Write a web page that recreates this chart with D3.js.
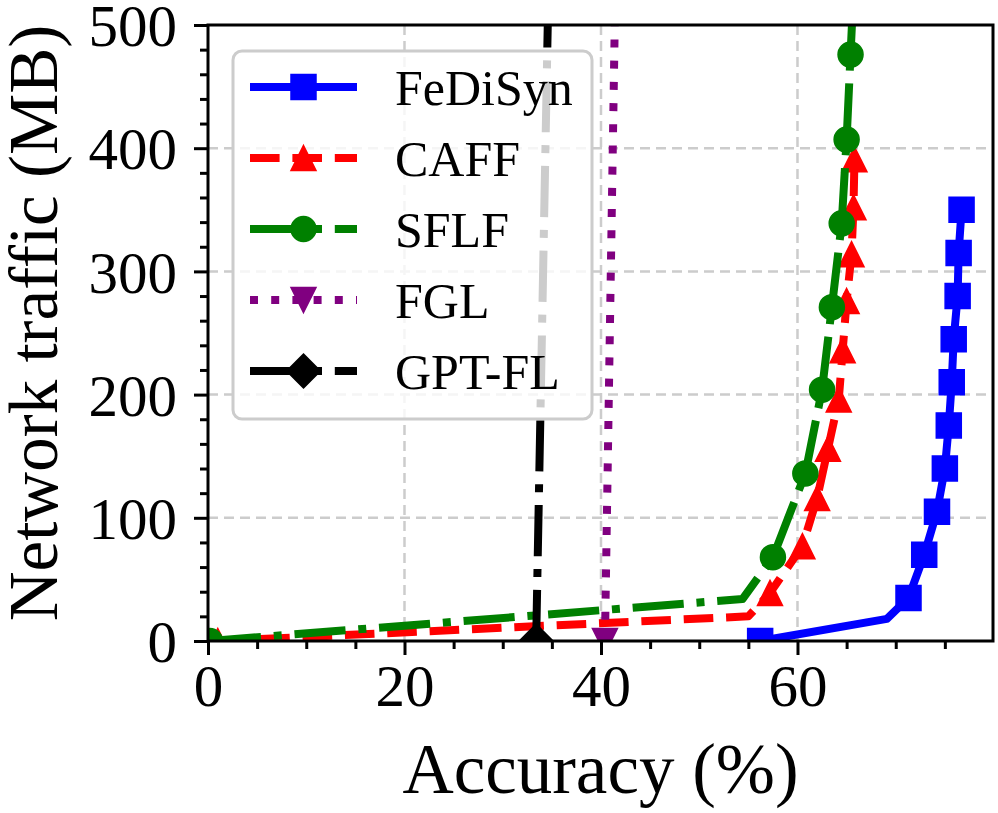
<!DOCTYPE html>
<html>
<head>
<meta charset="utf-8">
<script src="https://cdn.jsdelivr.net/npm/d3@7"></script>
<style>
  body { margin: 0; background: #fff; }
  text { font-family: 'Liberation Serif', 'DejaVu Serif', serif; fill: #000; }
</style>
</head>
<body>
<div id="chart"></div>
<script>
// series, in legend order
const seriesNames = ['FeDiSyn', 'CAFF', 'SFLF', 'FGL', 'GPT-FL'];

// accuracy (%) / network traffic (MB)
const fedisynAcc = [56.2, 69.1, 71.3, 72.9, 74.2, 75.0, 75.4, 75.7, 75.9, 76.3, 76.4, 76.7];
const fedisynTraffic = [0, 18, 35, 70, 105, 140, 175, 210, 245, 280, 315, 350];

const caffAcc = [1.0, 55.0, 57.2, 60.5, 62.0, 63.1, 64.2, 64.6, 65.0, 65.5, 65.7, 65.8];
const caffTraffic = [0, 20, 39, 77, 116, 156, 196, 236, 276, 314, 352, 391];

const sflfAcc = [0.2, 54.4, 57.5, 60.8, 62.5, 63.5, 64.5, 65.0, 65.4, 65.6];
const sflfTraffic = [0, 34, 68, 136, 204, 271, 339, 407, 476, 510];

const fglAcc = [40.4, 41.5];
const fglTraffic = [0, 550];

const gptflAcc = [33.4, 34.7];
const gptflTraffic = [0, 550];

const xMajorTicks = [0, 20, 40, 60];
const yMajorTicks = [0, 100, 200, 300, 400, 500];

const W = 998, H = 813;
const pLeft = 208, pRight = 993, pTop = 25, pBottom = 641;

const svg = d3.select('#chart').append('svg')
  .attr('width', W).attr('height', H);

const x = d3.scaleLinear().domain([0, 79.9]).range([pLeft, pRight]);
const y = d3.scaleLinear().domain([0, 500]).range([pBottom, pTop]);

const colors = d3.scaleOrdinal().domain(seriesNames)
  .range(['#0000ff', '#ff0000', '#008000', '#800080', '#000000']);

const lw = 8;
const dashes = {
  'FeDiSyn': null,
  'CAFF': `${3.7 * lw},${1.6 * lw}`,
  'SFLF': `${6.4 * lw},${1.6 * lw},${1 * lw},${1.6 * lw}`,
  'FGL': `${1 * lw},${1.65 * lw}`,
  'GPT-FL': `${6.4 * lw},${1.6 * lw},${1 * lw},${1.6 * lw}`
};

const ms = 12.5; // half marker size
const markerPath = {
  'FeDiSyn': `M${-ms},${-ms}H${ms}V${ms}H${-ms}Z`,
  'CAFF': `M0,${-ms}L${ms},${ms}L${-ms},${ms}Z`,
  'SFLF': `M${ms},0A${ms},${ms} 0 1,1 ${-ms},0A${ms},${ms} 0 1,1 ${ms},0Z`,
  'FGL': `M0,${ms}L${ms},${-ms}L${-ms},${-ms}Z`,
  'GPT-FL': `M0,${-ms * 1.35}L${ms * 1.35},0L0,${ms * 1.35}L${-ms * 1.35},0Z`
};

const seriesData = [
  [fedisynAcc, fedisynTraffic],
  [caffAcc, caffTraffic],
  [sflfAcc, sflfTraffic],
  [fglAcc, fglTraffic],
  [gptflAcc, gptflTraffic]
].map(([acc, tr], i) => ({
  name: seriesNames[i],
  points: acc.map((a, j) => ({ x: a, y: tr[j], idx: j }))
}));

svg.append('defs').append('clipPath').attr('id', 'plotClip')
  .append('rect')
  .attr('x', pLeft).attr('y', pTop)
  .attr('width', pRight - pLeft).attr('height', pBottom - pTop);

// grid
const grid = svg.append('g');
grid.selectAll('.gx').data(xMajorTicks.filter(d => d > 0))
  .enter().append('line')
  .attr('x1', d => x(d)).attr('x2', d => x(d))
  .attr('y1', pTop).attr('y2', pBottom);
grid.selectAll('.gy').data(yMajorTicks.filter(d => d > 0 && d < 500))
  .enter().append('line')
  .attr('x1', pLeft).attr('x2', pRight)
  .attr('y1', d => y(d)).attr('y2', d => y(d));
grid.selectAll('line')
  .attr('stroke', '#cccccc')
  .attr('stroke-width', 2.5)
  .attr('stroke-dasharray', '10,6');

// lines and markers
const plot = svg.append('g').attr('clip-path', 'url(#plotClip)');
const line = d3.line().x(d => x(d.x)).y(d => y(d.y));

seriesData.forEach(s => {
  const g = plot.append('g');
  g.append('path')
    .datum(s.points)
    .attr('d', line)
    .attr('fill', 'none')
    .attr('stroke', colors(s.name))
    .attr('stroke-width', lw)
    .attr('stroke-linejoin', 'round')
    .attr('stroke-linecap', 'butt')
    .attr('stroke-dasharray', dashes[s.name]);
  // the bend point (index 1) carries no marker
  g.selectAll('path.mk')
    .data(s.points.filter(d => d.idx !== 1))
    .enter().append('path')
    .attr('class', 'mk')
    .attr('transform', d => `translate(${x(d.x)},${y(d.y)})`)
    .attr('d', markerPath[s.name])
    .attr('fill', colors(s.name))
    .attr('stroke', colors(s.name))
    .attr('stroke-width', 1.5);
});

// axes
const xAxis = svg.append('g').attr('transform', `translate(0,${pBottom})`)
  .call(d3.axisBottom(x).tickValues(xMajorTicks).tickSize(14).tickPadding(14)
    .tickFormat(d3.format('d')));
const xMinor = svg.append('g').attr('transform', `translate(0,${pBottom})`)
  .call(d3.axisBottom(x).tickValues(d3.range(5, 80, 5).filter(d => d % 20 !== 0))
    .tickSize(8).tickFormat(''));
const yAxis = svg.append('g').attr('transform', `translate(${pLeft},0)`)
  .call(d3.axisLeft(y).tickValues(yMajorTicks).tickSize(14).tickPadding(17)
    .tickFormat(d3.format('d')));
const yMinor = svg.append('g').attr('transform', `translate(${pLeft},0)`)
  .call(d3.axisLeft(y).tickValues(d3.range(20, 500, 20).filter(d => d % 100 !== 0))
    .tickSize(8).tickFormat(''));

[xAxis, xMinor, yAxis, yMinor].forEach(a => {
  a.select('.domain').remove();
  a.selectAll('line').attr('stroke', '#000').attr('stroke-width', 3);
  a.selectAll('text').style('font-size', '59px').attr('fill', '#000')
    .style('font-family', "'Liberation Serif', serif");
});
xAxis.selectAll('text').attr('dy', '0.62em');
yAxis.selectAll('text').attr('dy', '0.35em');

// frame
svg.append('rect')
  .attr('x', pLeft).attr('y', pTop)
  .attr('width', pRight - pLeft).attr('height', pBottom - pTop)
  .attr('fill', 'none').attr('stroke', '#000').attr('stroke-width', 3);

// axis titles
svg.append('text')
  .attr('x', (pLeft + pRight) / 2).attr('y', 793)
  .attr('text-anchor', 'middle')
  .style('font-size', '71px')
  .text('Accuracy (%)');
svg.append('text')
  .attr('transform', `translate(57,${(pTop + pBottom) / 2 - 10}) rotate(-90)`)
  .attr('text-anchor', 'middle')
  .style('font-size', '69px')
  .text('Network traffic (MB)');

// legend
const legend = svg.append('g');
legend.append('rect')
  .attr('x', 233).attr('y', 51)
  .attr('width', 359).attr('height', 368)
  .attr('rx', 9)
  .attr('fill', '#fff').attr('fill-opacity', 0.8)
  .attr('stroke', '#cccccc').attr('stroke-width', 3);

const rows = legend.selectAll('g.row').data(seriesNames)
  .enter().append('g')
  .attr('transform', (d, i) => `translate(0,${87 + i * 71})`);
rows.append('line')
  .attr('x1', 250).attr('x2', 357)
  .attr('stroke', d => colors(d))
  .attr('stroke-width', lw)
  .attr('stroke-dasharray', d => dashes[d]);
rows.append('path')
  .attr('transform', 'translate(303.5,0)')
  .attr('d', d => markerPath[d])
  .attr('fill', d => colors(d))
  .attr('stroke', d => colors(d))
  .attr('stroke-width', 1.5);
rows.append('text')
  .attr('x', 395).attr('dy', '0.35em')
  .style('font-size', '50px')
  .text(d => d);
</script>
</body>
</html>
